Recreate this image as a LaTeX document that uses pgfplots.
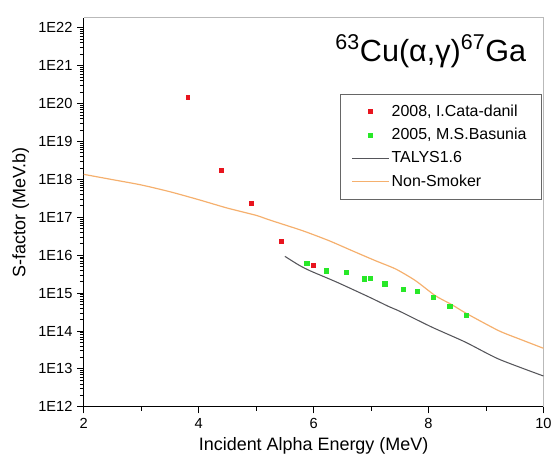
\documentclass[border=0pt]{standalone}
\usepackage{pgfplots}
\pgfplotsset{compat=1.18}
\usepackage{fontspec}
\setmainfont{Liberation Sans}

\definecolor{expred}{RGB}{232,20,30}
\definecolor{expgreen}{RGB}{40,232,40}
\definecolor{talysgray}{RGB}{85,85,90}
\definecolor{nsorange}{RGB}{245,176,110}

\begin{document}
\begin{tikzpicture}
\begin{axis}[
    scale only axis,
    width=345.75pt,
    height=292.5pt,
    ymode=log,
    log basis y=10,
    xmin=2, xmax=10,
    ymin=1e12, ymax=1.8e22,
    xtick={2,4,6,8,10},
    minor x tick num=1,
    ytick={1e12,1e13,1e14,1e15,1e16,1e17,1e18,1e19,1e20,1e21,1e22},
    yticklabels={1E12,1E13,1E14,1E15,1E16,1E17,1E18,1E19,1E20,1E21,1E22},
    minor ytick={
      2e12,3e12,4e12,5e12,6e12,7e12,8e12,9e12,
      2e13,3e13,4e13,5e13,6e13,7e13,8e13,9e13,
      2e14,3e14,4e14,5e14,6e14,7e14,8e14,9e14,
      2e15,3e15,4e15,5e15,6e15,7e15,8e15,9e15,
      2e16,3e16,4e16,5e16,6e16,7e16,8e16,9e16,
      2e17,3e17,4e17,5e17,6e17,7e17,8e17,9e17,
      2e18,3e18,4e18,5e18,6e18,7e18,8e18,9e18,
      2e19,3e19,4e19,5e19,6e19,7e19,8e19,9e19,
      2e20,3e20,4e20,5e20,6e20,7e20,8e20,9e20,
      2e21,3e21,4e21,5e21,6e21,7e21,8e21,9e21},
    axis x line*=bottom,
    axis y line*=left,
    axis line style={line width=0.9pt, black},
    tick align=outside,
    major tick length=5pt,
    minor tick length=3pt,
    every tick/.style={black, line width=0.7pt},
    every minor tick/.style={black, line width=0.5pt},
    /pgf/number format/assume math mode=true,
    ticklabel style={font=\fontsize{11}{13}\selectfont},
    xlabel={Incident Alpha Energy (MeV)},
    ylabel={S-factor (MeV.b)},
    label style={font=\fontsize{13.5}{16}\selectfont},
    clip=false,
    legend image code/.code={
        \draw[mark repeat=2,mark phase=2,#1]
            plot coordinates {(0cm,0cm) (0.475cm,0cm) (0.95cm,0cm)};
    },
    legend cell align=left,
    legend style={
        at={(rel axis cs:0.9955,0.805)},
        anchor=north east,
        draw=black!60,
        font=\fontsize{12}{14}\selectfont,
        row sep=3.5pt,
        inner xsep=9pt,
        inner ysep=6pt,
    },
]
\draw[gray!55, line width=0.8pt] (rel axis cs:0,1) -- (rel axis cs:1,1) -- (rel axis cs:1,0);

\addplot[only marks, mark=square*, mark size=1.5pt, color=expred] coordinates {
    (3.81,1.5e20) (4.40,1.7e18) (4.92,2.4e17) (5.44,2.3e16) (6.00,5.5e15)
};
\addplot[only marks, mark=square*, mark size=1.6pt, color=expgreen] coordinates {
    (5.88,6.0e15) (6.22,3.9e15) (6.57,3.5e15) (6.88,2.4e15) (6.99,2.5e15)
    (7.24,1.75e15) (7.56,1.28e15) (7.80,1.1e15) (8.08,7.7e14) (8.37,4.5e14)
    (8.66,2.6e14)
};
\addplot[no marks, smooth, tension=0.4, talysgray, line width=0.8pt] coordinates {
    (5.5,9.3e15) (5.75,5.4e15) (5.95,3.8e15) (6.4,1.95e15) (6.97,7.8e14)
    (7.31,4.4e14) (7.5,3.3e14) (8.06,1.26e14) (8.64,5.1e13) (9.22,1.82e13)
    (10,6.5e12)
};
\addplot[no marks, smooth, tension=0.4, nsorange, line width=0.9pt] coordinates {
    (2.0,1.35e18) (2.5,9.8e17) (3.0,7.1e17) (3.5,4.7e17) (4.0,2.9e17)
    (4.5,1.74e17) (5.0,1.12e17) (5.23,8.5e16) (5.81,4.4e16) (6.27,2.4e16)
    (6.68,1.29e16) (7.08,7.1e15) (7.43,4.3e15) (7.77,2.14e15) (8.12,8.5e14)
    (8.4,5.0e14) (8.66,2.9e14) (9.22,1.02e14) (9.6,6.0e13) (10,3.5e13)
};
\legend{{2008, I.Cata-danil}, {2005, M.S.Basunia}, TALYS1.6, Non-Smoker}

\node[font=\fontsize{23}{26}\selectfont, anchor=center]
    at (rel axis cs:0.755,0.915)
    {\textsuperscript{63}Cu(α,γ)\textsuperscript{67}Ga};
\end{axis}
\path[use as bounding box] (-63pt,-46.5pt) rectangle (354pt,306pt);
\end{tikzpicture}
\end{document}
